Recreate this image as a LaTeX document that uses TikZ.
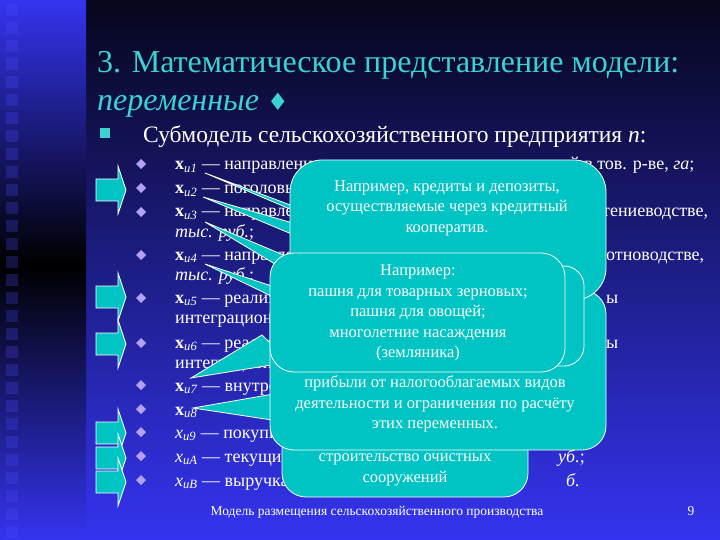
\documentclass[tikz,border=0pt]{standalone}
\usepackage{fontspec}
\setmainfont{Liberation Serif}
\newfontfamily\djv{DejaVu Sans}
\newcommand{\myxb}[1]{\textbf{x}\textsubscript{\textit{и#1}}}
\newcommand{\myxi}[1]{\textit{x}\textsubscript{\textit{и#1}}}
\begin{document}
\begin{tikzpicture}[x=1pt,y=-1pt,
  txt/.style={anchor=base west,text=white,inner sep=0pt,font=\fontsize{18}{20}\selectfont},
  ctxt/.style={align=center,text=white,inner sep=0pt,font=\fontsize{16.5}{20.5}\selectfont},
  callout/.style={fill=teal0,draw=white,line width=0.8pt,rounded corners=24pt},
  tailst/.style={fill=teal0,draw=white,line width=0.8pt},
  barrow/.style={fill=teal0,draw=white,line width=0.8pt}]
\definecolor{teal0}{RGB}{0,196,196}
\definecolor{lav}{RGB}{180,160,245}
\definecolor{ttl}{RGB}{60,210,210}
\definecolor{bluebot}{RGB}{52,52,240}
\definecolor{blacktop}{RGB}{6,6,28}
\useasboundingbox (0,0) rectangle (720,540);
% background
\shade[top color=blacktop,bottom color=bluebot] (86,0) rectangle (720,540);
\shade[top color=bluebot,bottom color=black] (0,0) rectangle (86,265);
\shade[top color=black,bottom color=bluebot] (0,265) rectangle (86,540);
\foreach \i in {0,...,29}{\fill[blue!70!white,opacity=0.25] (6,{4+18*\i}) rectangle (18,{16+18*\i});}
% title
\node[anchor=base west,text=ttl,inner sep=0pt,font=\fontsize{32}{36}\selectfont] (t1) at (97,73) {3. Математическое представление модели:};
\node[anchor=base west,text=ttl,inner sep=0pt,font=\fontsize{32}{36}\selectfont\itshape] (t2) at (97,111) {переменные {\djv\fontsize{24}{28}\selectfont ♦}};
\fill[ttl] (100,128) rectangle (110,138);
\node[anchor=base west,text=white,inner sep=0pt,font=\fontsize{23.5}{26}\selectfont] (sub) at (143,143) {Субмодель сельскохозяйственного предприятия \textit{n}:};
% block arrows
\foreach \y in {190,297,344,433,458,482}{
  \draw[barrow] (96,\y-11) -- (118,\y-11) -- (118,\y-24) -- (126,\y) -- (118,\y+24) -- (118,\y+11) -- (96,\y+11) -- cycle;}
% bullets
\foreach \y in {164,188,212,255,298,343,385,409,432,456,480}{
  \fill[lav] (141,\y-5) -- (146,\y) -- (141,\y+5) -- (136,\y) -- cycle;}
% item texts
\node[txt] (l1) at (175,170) {\myxb{1} — направления использования};
\node[txt] (r1) at (570,170) {й в тов. р-ве, \textit{га};};
\node[txt] (l2) at (175,194) {\myxb{2} — поголовье скота};
\node[txt] (l3) at (175,217) {\myxb{3} — направления};
\node[txt] (r3) at (602,217) {тениеводстве,};
\node[txt] (l3b) at (175,237) {\textit{тыс. руб.};};
\node[txt] (l4) at (175,260) {\myxb{4} — направления};
\node[txt] (r4) at (606,260) {отноводстве,};
\node[txt] (l4b) at (175,280) {\textit{тыс. руб.};};
\node[txt] (l5) at (175,303) {\myxb{5} — реализация};
\node[txt] (r5) at (606,303) {ы};
\node[txt] (l5b) at (175,323) {интеграционные};
\node[txt] (l6) at (175,348) {\myxb{6} — реализация};
\node[txt] (r6) at (606,348) {ы};
\node[txt] (l6b) at (175,368) {интеграционные};
\node[txt] (l7) at (175,391) {\myxb{7} — внутренние};
\node[txt] (l8) at (175,415) {\myxb{8}};
\node[txt] (l9) at (175,438) {\myxi{9} — покупка};
\node[txt] (l10) at (175,462) {\myxi{A} — текущие};
\node[txt] (r10) at (558,462) {\textit{уб.};};
\node[txt] (l11) at (175,486) {\myxi{B} — выручка};
\node[txt] (r11) at (566,486) {\textit{б.}};
% callout E
\draw[callout] (282,400) rectangle (528,497);
\node[ctxt] (e) at (405,470) {строительство очистных\\сооружений};
% callout D
\coordinate (d7) at (191,378);
\coordinate (d8) at (193,408);
\draw[tailst] (d7) -- (262,335) -- (290,362) -- cycle;
\draw[tailst] (d8) -- (285,392) -- (285,422) -- cycle;
\draw[callout] (270,290) rectangle (606,450);
\node[ctxt] (d) at (435,404) {прибыли от налогооблагаемых видов\\деятельности и ограничения по расчёту\\этих переменных.};
% callout A
\coordinate (a1) at (205,173);
\coordinate (a2) at (203,197);
\draw[tailst] (a1) -- (325,218) -- (382,248) -- cycle;
\draw[tailst] (a2) -- (310,228) -- (330,250) -- cycle;
\draw[callout,rounded corners=32pt] (290,160) rectangle (606,300);
\node[ctxt] (a) at (447,208) {Например, кредиты и депозиты,\\осуществляемые через кредитный\\кооператив.};
% callout C
\coordinate (c4) at (205,264);
\draw[tailst] (c4) -- (290,292) -- (300,310) -- cycle;
\draw[callout,rounded corners=20pt] (470,266) rectangle (584,366);
% callout B
\coordinate (b3) at (205,222);
\draw[tailst] (b3) -- (300,262) -- (310,285) -- cycle;
\draw[callout] (270,253) rectangle (565,372);
\node[ctxt] (b) at (418,313) {Например:\\пашня для товарных зерновых;\\пашня для овощей;\\многолетние насаждения\\(земляника)};
% footer
\node[anchor=base,text=white,inner sep=0pt,font=\fontsize{13.5}{16}\selectfont] (f) at (377,515) {Модель размещения сельскохозяйственного производства};
\node[anchor=base,text=white,inner sep=0pt,font=\fontsize{13.5}{16}\selectfont] (pg) at (691,515) {9};
\end{tikzpicture}
\end{document}
